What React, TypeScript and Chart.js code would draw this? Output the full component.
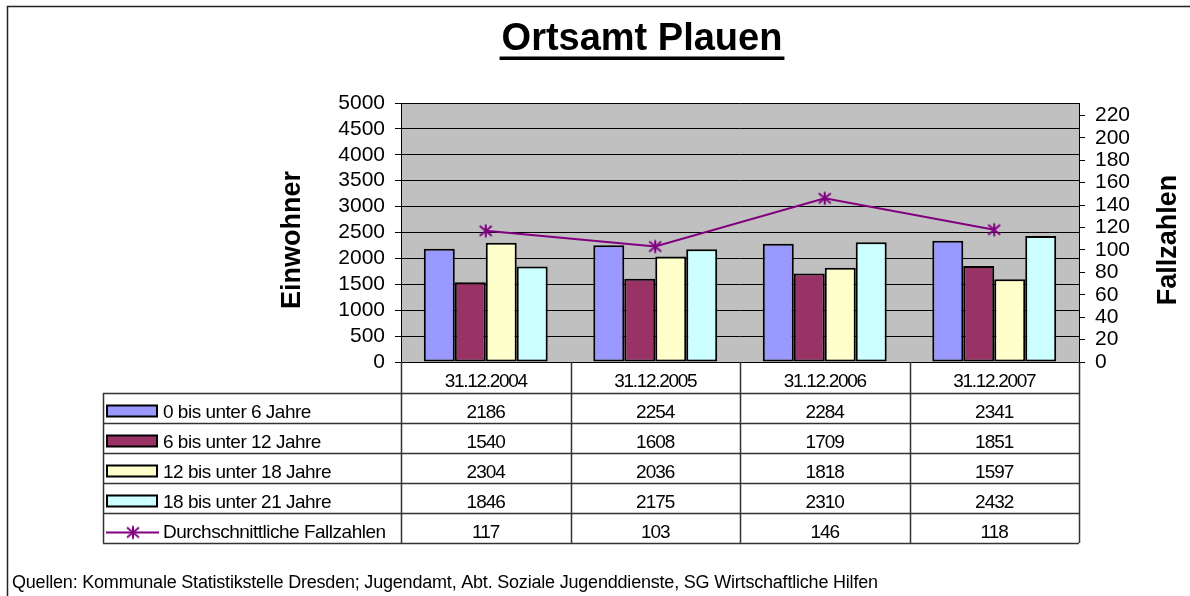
import React, { useEffect, useRef } from "react";
import { Chart, registerables } from "chart.js";

Chart.register(...registerables);

// ---------- data ----------
const categories = ["31.12.2004", "31.12.2005", "31.12.2006", "31.12.2007"];
const age0to6 = [2186, 2254, 2284, 2341];
const age6to12 = [1540, 1608, 1709, 1851];
const age12to18 = [2304, 2036, 1818, 1597];
const age18to21 = [1846, 2175, 2310, 2432];
const fallzahlen = [117, 103, 146, 118];
const seriesNames = [
  "0 bis unter 6 Jahre",
  "6 bis unter 12 Jahre",
  "12 bis unter 18 Jahre",
  "18 bis unter 21 Jahre",
  "Durchschnittliche Fallzahlen",
];
const leftAxisMax = 5000;
const leftAxisStep = 500;
const rightAxisMax = 231;
const rightAxisLastTick = 220;
const rightAxisStep = 20;
const chartTitle = "Ortsamt Plauen";
const leftAxisTitle = "Einwohner";
const rightAxisTitle = "Fallzahlen";
const sourceNote =
  "Quellen: Kommunale Statistikstelle Dresden; Jugendamt, Abt. Soziale Jugenddienste, SG Wirtschaftliche Hilfen";

// ---------- styles ----------
const FONT = "'Liberation Sans', Arial, Helvetica, sans-serif";
const barColors = ["#9999FF", "#993366", "#FFFFCC", "#CCFFFF"];
const lineColor = "#800080";
const W = 1190;
const H = 596;

function makeStar(color: string): HTMLCanvasElement {
  const c = document.createElement("canvas");
  c.width = 16;
  c.height = 16;
  const g = c.getContext("2d")!;
  g.strokeStyle = color;
  g.lineWidth = 2;
  g.beginPath();
  g.moveTo(8, 1.5);
  g.lineTo(8, 14.5);
  g.moveTo(2, 3);
  g.lineTo(14, 13);
  g.moveTo(14, 3);
  g.lineTo(2, 13);
  g.stroke();
  return c;
}

const decorPlugin = {
  id: "excelDecor",
  beforeDraw(chart: any) {
    const { ctx, chartArea: a } = chart;
    ctx.save();
    ctx.fillStyle = "#ffffff";
    ctx.fillRect(0, 0, chart.width, chart.height);
    ctx.fillStyle = "#C0C0C0";
    ctx.fillRect(a.left, a.top, a.right - a.left, a.bottom - a.top);
    ctx.restore();
  },
  afterDraw(chart: any) {
    const { ctx, chartArea: a } = chart;
    const xs = chart.scales.x;
    const star = (chart as any)._starImg as HTMLCanvasElement;
    ctx.save();

    // outer frame
    ctx.strokeStyle = "#222";
    ctx.lineWidth = 1.5;
    ctx.beginPath();
    ctx.moveTo(7.5, H);
    ctx.lineTo(7.5, 6.5);
    ctx.lineTo(W, 6.5);
    ctx.stroke();

    // title
    ctx.fillStyle = "#000";
    ctx.font = `bold 38px ${FONT}`;
    ctx.textAlign = "center";
    ctx.textBaseline = "alphabetic";
    const tx = 642;
    ctx.fillText(chartTitle, tx, 50);
    const tw = ctx.measureText(chartTitle).width;
    ctx.fillRect(tx - tw / 2 - 2, 56.5, tw + 4, 3.5);

    // axis titles (both read bottom-to-top)
    ctx.font = `bold 27px ${FONT}`;
    ctx.textBaseline = "middle";
    ctx.save();
    ctx.translate(293, 240);
    ctx.rotate(-Math.PI / 2);
    ctx.fillText(leftAxisTitle, 0, 0);
    ctx.restore();
    ctx.save();
    ctx.translate(1169, 240);
    ctx.rotate(-Math.PI / 2);
    ctx.fillText(rightAxisTitle, 0, 0);
    ctx.restore();

    // data table
    const n = categories.length;
    const cw = (a.right - a.left) / n;
    const tableLeft = 103;
    const headTop = a.bottom;
    const headH = 31;
    const rowH = 30;
    const rows = seriesNames.length;
    const tableBottom = headTop + headH + rows * rowH;
    ctx.strokeStyle = "#333";
    ctx.lineWidth = 1.5;
    ctx.beginPath();
    for (let i = 0; i <= n; i++) {
      const x = Math.round(a.left + i * cw) + 0.5;
      ctx.moveTo(x, headTop);
      ctx.lineTo(x, tableBottom);
    }
    ctx.moveTo(tableLeft + 0.5, headTop + headH);
    ctx.lineTo(tableLeft + 0.5, tableBottom);
    for (let r = 0; r <= rows; r++) {
      const y = Math.round(headTop + headH + r * rowH) + 0.5;
      ctx.moveTo(tableLeft, y);
      ctx.lineTo(a.right, y);
    }
    ctx.stroke();

    const rowValues = [age0to6, age6to12, age12to18, age18to21, fallzahlen];
    ctx.fillStyle = "#000";
    ctx.textBaseline = "alphabetic";
    ctx.textAlign = "center";
    ctx.font = `19px ${FONT}`;
    (ctx as any).letterSpacing = "-1.3px";
    categories.forEach((c, i) => {
      ctx.fillText(c, xs.getPixelForValue(i), headTop + 24.5);
    });
    (ctx as any).letterSpacing = "-1px";
    rowValues.forEach((vals, r) => {
      const top = headTop + headH + r * rowH;
      vals.forEach((v, i) => {
        ctx.fillText(String(v), xs.getPixelForValue(i), top + 24.5);
      });
    });

    // row labels with legend keys
    ctx.textAlign = "left";
    (ctx as any).letterSpacing = "-0.5px";
    seriesNames.forEach((name, r) => {
      const top = headTop + headH + r * rowH;
      const base = top + 24.5;
      if (r < barColors.length) {
        ctx.fillStyle = barColors[r];
        ctx.fillRect(107, base - 12, 50, 11);
        ctx.strokeStyle = "#000";
        ctx.lineWidth = 2;
        ctx.strokeRect(107, base - 12, 50, 11);
      } else {
        ctx.strokeStyle = lineColor;
        ctx.lineWidth = 2;
        ctx.beginPath();
        ctx.moveTo(106, base - 5);
        ctx.lineTo(159, base - 5);
        ctx.stroke();
        if (star) ctx.drawImage(star, 133 - 8, base - 5 - 8);
      }
      ctx.fillStyle = "#000";
      ctx.fillText(name, 163, base);
    });

    // source note
    ctx.font = `18px ${FONT}`;
    (ctx as any).letterSpacing = "-0.2px";
    ctx.fillText(sourceNote, 12, 588);
    (ctx as any).letterSpacing = "0px";
    ctx.restore();
  },
};

export default function App() {
  const ref = useRef<HTMLCanvasElement | null>(null);

  useEffect(() => {
    if (!ref.current) return;
    const starImg = makeStar(lineColor);
    const chart = new Chart(ref.current, {
      type: "bar",
      data: {
        labels: categories,
        datasets: [
          {
            type: "line",
            label: seriesNames[4],
            data: fallzahlen,
            yAxisID: "y1",
            borderColor: lineColor,
            backgroundColor: lineColor,
            borderWidth: 2,
            pointStyle: starImg as any,
            pointRadius: 7,
            tension: 0,
            fill: false,
            order: 0,
          } as any,
          ...[age0to6, age6to12, age12to18, age18to21].map((d, i) => ({
            type: "bar",
            label: seriesNames[i],
            data: d,
            yAxisID: "y",
            backgroundColor: barColors[i],
            borderColor: "#000",
            borderWidth: 2,
            borderSkipped: false,
            categoryPercentage: 0.731,
            barPercentage: 1,
            order: 1,
          })),
        ],
      },
      options: {
        responsive: false,
        animation: false,
        devicePixelRatio: 1,
        layout: { padding: { left: 0, right: 0, top: 103, bottom: 234 } },
        plugins: {
          legend: { display: false },
          title: { display: false },
          tooltip: { enabled: false },
        },
        scales: {
          x: { display: false, offset: true },
          y: {
            position: "left",
            min: 0,
            max: leftAxisMax,
            ticks: {
              stepSize: leftAxisStep,
              autoSkip: false,
              color: "#000",
              padding: 10,
              font: { family: FONT, size: 21 },
              callback: (v: any) => String(v),
            },
            grid: { color: "#000", lineWidth: 1, tickLength: 6, drawTicks: true },
            border: { display: true, color: "#000", width: 1 },
            afterFit: (s: any) => {
              s.width = 401;
            },
          },
          y1: {
            position: "right",
            min: 0,
            max: rightAxisMax,
            ticks: {
              stepSize: rightAxisStep,
              autoSkip: false,
              includeBounds: false,
              color: "#000",
              padding: 10,
              font: { family: FONT, size: 21 },
              callback: (v: any) => String(v),
            },
            grid: { color: "#000", lineWidth: 1, tickLength: 6, drawOnChartArea: false, drawTicks: true },
            border: { display: true, color: "#000", width: 1 },
            afterBuildTicks: (s: any) => {
              s.ticks = s.ticks.filter((t: any) => t.value <= rightAxisLastTick);
            },
            afterFit: (s: any) => {
              s.width = 111;
            },
          },
        },
      } as any,
      plugins: [decorPlugin],
    });
    (chart as any)._starImg = starImg;
    chart.draw();
    return () => chart.destroy();
  }, []);

  return (
    <div style={{ position: "absolute", left: 0, top: 0, width: W, height: H, background: "#fff" }}>
      <canvas ref={ref} width={W} height={H} style={{ display: "block", width: W, height: H }} />
    </div>
  );
}
